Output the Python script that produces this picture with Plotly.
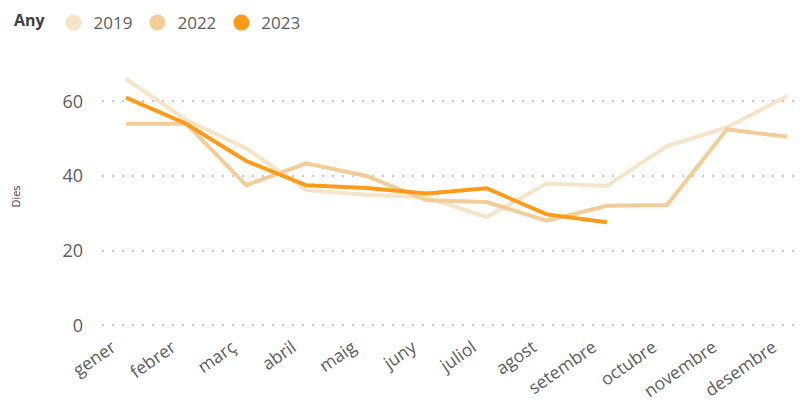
import plotly.graph_objects as go

months = ["gener", "febrer", "març", "abril", "maig", "juny", "juliol",
          "agost", "setembre", "octubre", "novembre", "desembre"]
y2019 = [66, 55, 47.4, 36.2, 35, 34.3, 29, 38, 37.3, 48, 53, 61.4]
y2022 = [54, 54, 37.5, 43.4, 40, 33.5, 33, 28, 32, 32.2, 52.5, 50.5]
y2023 = [61, 54, 44, 37.5, 36.8, 35.3, 36.7, 29.7, 27.6]

series = [("2019", y2019, "#F6E4C8"), ("2022", y2022, "#F3CD97"), ("2023", y2023, "#FF9A1A")]

fig = go.Figure()
for name, vals, col in series:
    fig.add_trace(go.Scatter(x=months[:len(vals)], y=vals, mode="lines", name=name,
                             line=dict(color=col, width=4), showlegend=False))
for name, vals, col in series:
    fig.add_trace(go.Scatter(x=[None], y=[None], mode="markers", name=name,
                             marker=dict(color=col, size=16), showlegend=True))

fig.update_layout(
    width=802, height=396,
    margin=dict(l=94, r=0, t=56, b=75),
    plot_bgcolor="white", paper_bgcolor="white",
    font=dict(family="Open Sans, Noto Sans, sans-serif", color="#605E5C"),
    legend=dict(orientation="h", x=0.005, y=0.962, xref="container", yref="container",
                xanchor="left", yanchor="middle",
                title=dict(text="<b>Any</b>", side="left", font=dict(size=16, color="#404040")),
                font=dict(size=17, color="#605E5C"), itemwidth=30,
                tracegroupgap=0),
    xaxis=dict(categoryorder="array", categoryarray=months, range=[-0.4, 11.38],
               showgrid=False, showline=False, zeroline=False, tickangle=-35,
               tickfont=dict(size=17.5, color="#605E5C"), ticks="", automargin=False,
               ticklabelshift=-14, ticklabelstandoff=4),
    yaxis=dict(range=[-1, 70], tickvals=[0, 20, 40, 60], showgrid=True,
               gridcolor="#C8C8C8", griddash="2px,8px", gridwidth=1.5, zeroline=False,
               showline=False, tickfont=dict(size=18, color="#605E5C"), ticks="",
               ticklabelstandoff=18, automargin=False,
               title=dict(text="Dies", font=dict(size=11, color="#404040"), standoff=48)),
)
fig.write_html("out.html")
